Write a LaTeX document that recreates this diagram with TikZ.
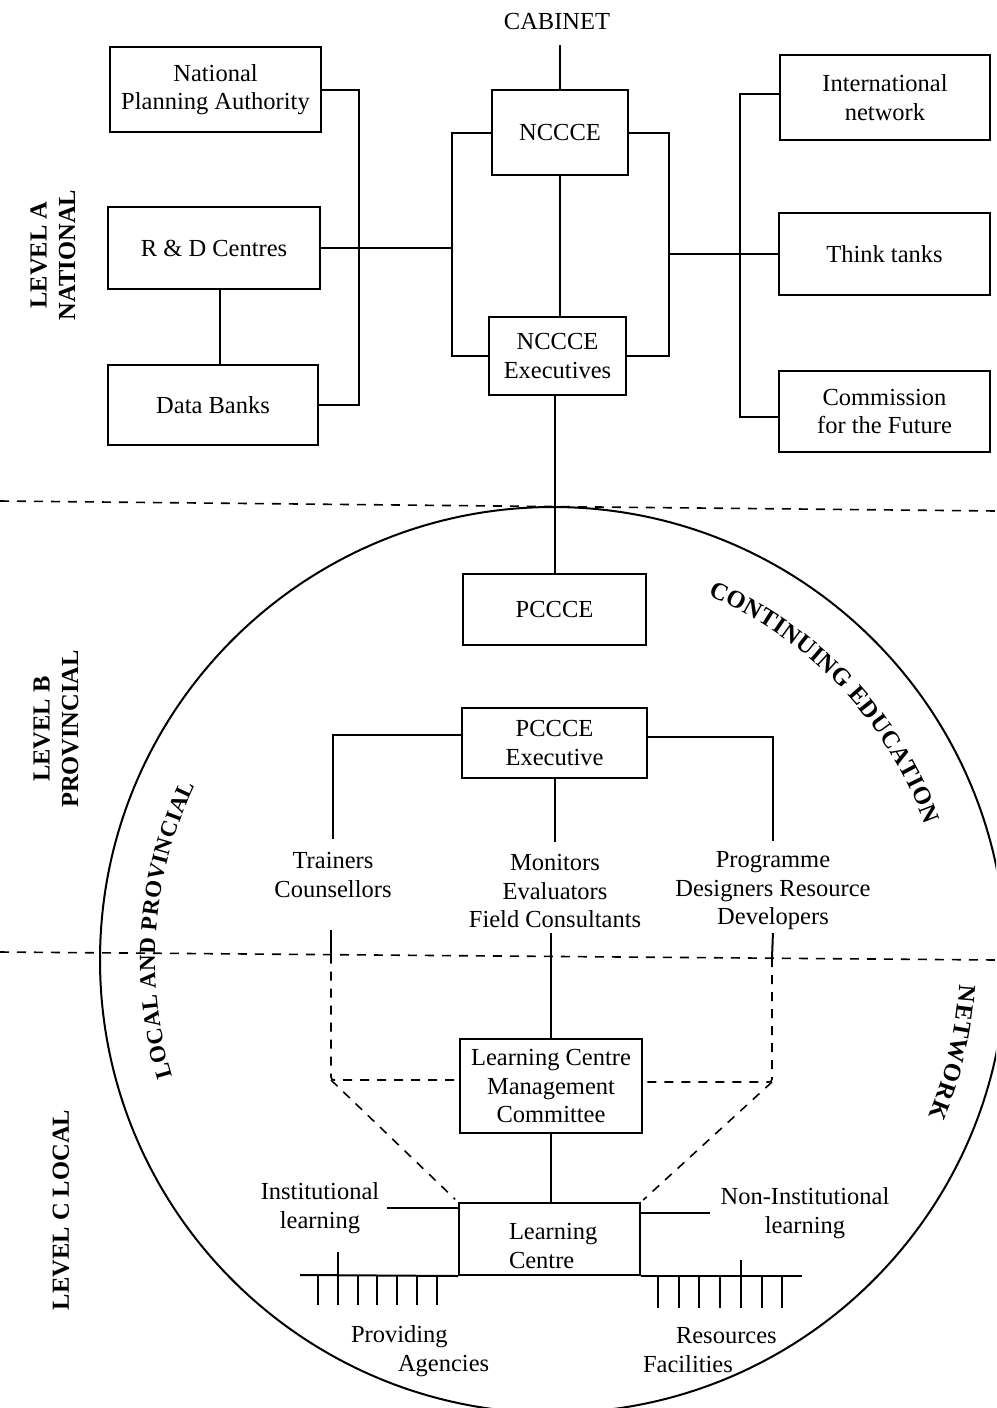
\documentclass[tikz,border=0pt]{standalone}
\usepackage{fontspec}
\setmainfont{Liberation Serif}
\usetikzlibrary{decorations.text,calc}
\newcommand{\dfont}{\fontsize{24.5}{28.5}\selectfont}
\newcommand{\sfont}{\fontsize{23}{27}\selectfont}
\begin{document}
\begin{tikzpicture}[x=1pt,y=1pt,line width=2pt,
  box/.style={draw,inner sep=0pt,align=center,font=\dfont},
  txt/.style={inner sep=0pt,align=center,font=\dfont},
  lvl/.style={inner sep=0pt,align=center,font={\dfont\bfseries},rotate=90},
  dline/.style={line width=1.6pt,dash pattern=on 9pt off 8pt}]
\useasboundingbox (0,0) rectangle (996,-1408);
\fill[white] (0,0) rectangle (996,-1408);

% the continuing education network
\begin{scope}
  \clip (0,0) rectangle (996,-1408);
  \draw (553,-960) circle[radius=453];
\end{scope}

% level dividers
\draw[dline] (0,-501) -- (996,-511);
\draw[dline] (0,-952) -- (996,-960);

% level labels
\node[lvl] (lva) at (53,-255) {LEVEL A\\NATIONAL};
\node[lvl] (lvb) at (56,-729) {LEVEL B\\PROVINCIAL};
\node[lvl] (lvc) at (61,-1210) {LEVEL C LOCAL};

% national level
\node[txt] (cab) at (557,-22) {CABINET};
\node[box,minimum width=211pt,minimum height=85pt] (npa) at (215.5,-89.5) {National\\Planning Authority};
\node[box,minimum width=212pt,minimum height=82pt] (rd) at (214,-248) {R \& D Centres};
\node[box,minimum width=210pt,minimum height=80pt] (db) at (213,-405) {Data Banks};
\node[box,minimum width=136pt,minimum height=85pt] (nc) at (560,-132.5) {NCCCE};
\node[box,minimum width=137pt,minimum height=78pt] (ne) at (557.5,-356) {NCCCE\\Executives};
\node[box,minimum width=210pt,minimum height=85pt] (intl) at (885,-97.5) {International\\network};
\node[box,minimum width=211pt,minimum height=82pt] (think) at (884.5,-254) {Think tanks};
\node[box,minimum width=211pt,minimum height=81pt] (comm) at (884.5,-411.5) {Commission\\for the Future};

\coordinate (lb) at (452,-248);
\coordinate (rb) at (669,-254);
\coordinate (lv) at (359,-248);
\coordinate (rv) at (740,-254);

\draw[shorten >=14pt] (nc.north) -- (nc.north |- cab.south);
\draw (nc.south) -- (nc.south |- ne.north);
\draw (nc.west) -| (lb) |- (ne.west);
\draw (nc.east) -| (rb) |- (ne.east);
\draw (npa.east) -| (lv) |- (db.east);
\draw (rd.east) -- (lb);
\draw ([xshift=6pt]rd.south) -- ([xshift=6pt]rd.south |- db.north);
\draw ([yshift=4pt]intl.west) -| (rv) |- ([yshift=-5pt]comm.west);
\draw (rb) -- (think.west);

% provincial level
\node[box,minimum width=183pt,minimum height=71pt] (pc) at (554.5,-609.5) {PCCCE};
\node[box,minimum width=185pt,minimum height=70pt] (pe) at (554.5,-743) {PCCCE\\Executive};
\node[txt] (tr) at (333,-875) {Trainers\\Counsellors};
\node[txt] (mo) at (555,-891) {Monitors\\Evaluators\\Field Consultants};
\node[txt] (pg) at (773,-891) {Programme\\Designers Resource\\Developers};

\draw (pc.north) -- (pc.north |- ne.south);
\draw ([yshift=8pt]pe.west) -| ([yshift=13pt]tr.north);
\draw ([yshift=6pt]pe.east) -| ([yshift=10pt]pg.north);
\draw (pe.south) -- ([yshift=11pt]pe.south |- mo.north);

% local level
\node[box,minimum width=182pt,minimum height=94pt] (lcmc) at (551,-1086) {Learning Centre\\Management\\Committee};
\node[draw,inner sep=0pt,minimum width=181pt,minimum height=72pt] (lc) at (549.5,-1239) {};
\node[txt,align=left,anchor=west] (lct) at (508,-1246) {Learning\\Centre};
\node[txt] (inst) at (320,-1208) {Institutional\\learning};
\node[txt] (ni) at (805,-1213) {Non-Institutional\\learning};
\node[txt,align=left,anchor=west] (prov) at (350,-1351) {Providing\\\hspace*{47pt}Agencies};
\node[txt,align=left,anchor=west] (res) at (642,-1350) {\hspace*{33pt}Resources\\Facilities};

\draw[shorten <=4pt] (mo.south -| lcmc.north) -- (lcmc.north);
\draw (lcmc.south) -- (lcmc.south |- lc.north);

\coordinate (drtop) at (772,-958.2);
\coordinate (dr) at (772,-1082);
\coordinate (tlo) at (331,-930);
\coordinate (dltop) at (331,-954.7);
\coordinate (dl) at (331,-1080);

\draw[shorten <=2pt] (pg.south) -- (drtop);
\draw[dline,rounded corners=3pt] (drtop) -- (dr) -- (dr -| lcmc.east);
\draw[dline,shorten >=3pt] (dr) -- (lc.north east);
\draw (tlo) -- (dltop);
\draw[dline,rounded corners=3pt] (dltop) -- (dl) -- (dl -| lcmc.west);
\draw[dline,shorten >=4pt] (dl) -- (lc.north west);

\draw[shorten >=7pt] (inst.east -| lc.west) -- (inst.east);
\draw[shorten >=10pt] (ni.west -| lc.east) -- (ni.west);

% providing agencies and resources rails
\coordinate (bl) at (300,-1275);
\coordinate (br) at (802,-1276);
\draw (lc.south west) -- (bl);
\draw (lc.south east) -- (br);
\foreach \x in {318,338,358,377,397,417,437} \draw (\x,-1275) -- (\x,-1305);
\draw (338,-1275) -- (338,-1252);
\foreach \x in {658,679,699,720,741,762,782} \draw (\x,-1276) -- (\x,-1308);
\draw (741,-1276) -- (741,-1260);

% lettering round the circle
\path[decorate,decoration={text along path,text align={fit to path},
  text={|\dfont\bfseries|CONTINUING EDUCATION}}]
  ($(553,-960)+(67:396)$) arc[start angle=67,end angle=20,radius=396];
\path[decorate,decoration={text along path,text align={fit to path},
  text={|\sfont\bfseries|LOCAL AND PROVINCIAL}}]
  ($(553,-960)+(197:398)$) arc[start angle=197,end angle=154,radius=398];
\path[decorate,decoration={text along path,text align={fit to path},
  text={|\dfont\bfseries|NETWORK}}]
  ($(553,-960)+(-3.5:407)$) arc[start angle=-3.5,end angle=-22.5,radius=407];
\end{tikzpicture}
\end{document}
